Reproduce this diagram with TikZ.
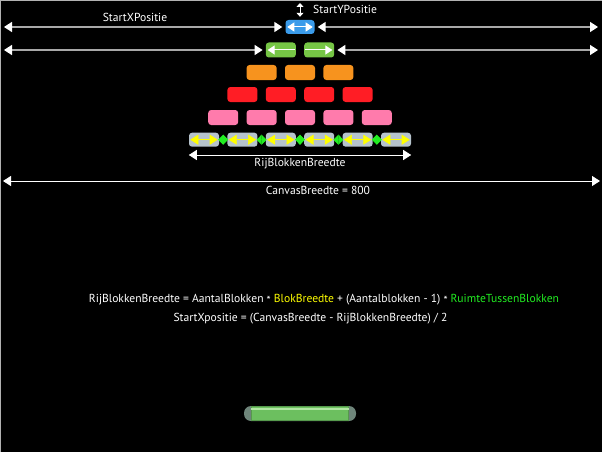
\documentclass[tikz,border=0pt]{standalone}
\usepackage{fontspec}
\setmainfont{PT Sans}
\usetikzlibrary{arrows.meta}
\definecolor{blueb}{HTML}{3A9BEA}
\definecolor{greenb}{HTML}{76C645}
\definecolor{orangeb}{HTML}{F7931E}
\definecolor{redb}{HTML}{FF1D25}
\definecolor{pinkb}{HTML}{FF7BAC}
\definecolor{grayb}{HTML}{B6C3CC}
\definecolor{dimline}{HTML}{A8A8A8}
\definecolor{yel}{HTML}{FFFF00}
\definecolor{grn}{HTML}{22EE22}
\definecolor{padend}{HTML}{6E857A}
\definecolor{padbody}{HTML}{6CBF5F}
\definecolor{padhi}{HTML}{B0E6A2}
\tikzset{
  blok/.style={rounded corners=3pt, minimum width=30pt, minimum height=15pt, inner sep=0pt, draw=none},
  dimarrow/.style={dimline, line width=1.5pt, {Triangle[length=8pt,width=10pt,color=white]}-{Triangle[length=8pt,width=10pt,color=white]}},
  whitearrow/.style={white, line width=1pt, {Triangle[length=8pt,width=10pt]}-{Triangle[length=8pt,width=10pt]}},
  inarrow/.style={white, line width=1pt},
  yelarrow/.style={yel, line width=0.6pt, {Triangle[length=8pt,width=10pt]}-{Triangle[length=8pt,width=10pt]}},
  gaparrow/.style={green!55!black, line width=0.8pt, {Triangle[length=5pt,width=10pt,color=grn]}-{Triangle[length=5pt,width=10pt,color=grn]}},
  lbl/.style={white, font=\fontsize{11.6}{13}\selectfont, inner sep=0pt}
}
\begin{document}
\begin{tikzpicture}[x=1pt,y=-1pt]
\useasboundingbox (0,0) rectangle (602,452);
\fill[black] (0,0) rectangle (602,452);
\draw[gray!60, line width=1pt] (0.5,452) -- (0.5,0.5) -- (602,0.5);

% blocks
\node[blok, fill=blueb, minimum width=29pt, minimum height=14pt] (b0) at (300,27) {};
\node[blok, fill=greenb] (g0) at (280.8,50) {};
\node[blok, fill=greenb] (g1) at (319.2,50) {};
\foreach \i in {0,1,2} \node[blok, fill=orangeb] (o\i) at ({300+(\i-1)*38.4},72.5) {};
\foreach \i in {0,...,3} \node[blok, fill=redb] (r\i) at ({300+(\i-1.5)*38.4},94.5) {};
\foreach \i in {0,...,4} \node[blok, fill=pinkb] (p\i) at ({300+(\i-2)*38.4},117.5) {};
\foreach \i in {0,...,5} \node[blok, fill=grayb, minimum height=14pt] (q\i) at ({300+(\i-2.5)*38.4},139.7) {};

% arrows inside gray row
\foreach \i in {0,...,5} \draw[yelarrow] ([xshift=1.5pt]q\i.west) -- ([xshift=-1.5pt]q\i.east);
\foreach \i/\j in {0/1,1/2,2/3,3/4,4/5} \draw[gaparrow] ([xshift=-1pt]q\i.east) -- ([xshift=1pt]q\j.west);

% arrows inside blue and green blocks
\draw[inarrow, {Triangle[length=7pt,width=9pt]}-{Triangle[length=7pt,width=9pt]}] ([xshift=2pt]b0.west) -- ([xshift=-2pt]b0.east);
\draw[inarrow, {Triangle[length=7pt,width=9pt]}-] ([xshift=2pt]g0.west) -- ([xshift=-1pt]g0.east);
\draw[inarrow, -{Triangle[length=7pt,width=9pt]}] ([xshift=1pt]g1.west) -- ([xshift=-2pt]g1.east);

% StartYPositie
\coordinate (yt) at (300,3);
\draw[white, line width=1pt, {Triangle[length=4pt,width=7pt]}-{Triangle[length=4pt,width=7pt]}] (yt) -- ([yshift=3pt]b0.north);
\node[lbl, anchor=west] (ly) at (313,9) {StartYPositie};

% row 1 dimension arrows
\coordinate (a1l) at (4,27);
\coordinate (a1r) at (598,27);
\draw[dimarrow] (a1l) -- ([xshift=-3pt]b0.west);
\draw[dimarrow] ([xshift=3pt]b0.east) -- (a1r);
\node[lbl] (lx) at (135,17) {StartXPositie};

% row 2 dimension arrows
\coordinate (a2l) at (4,50);
\coordinate (a2r) at (598,50);
\draw[dimarrow] (a2l) -- ([xshift=-3pt]g0.west);
\draw[dimarrow] ([xshift=3pt]g1.east) -- (a2r);

% RijBlokkenBreedte
\coordinate (rl) at (q0.west |- 0,155);
\coordinate (rr) at (q5.east |- 0,155);
\draw[whitearrow] (rl) -- (rr);
\node[lbl] (lr) at (300,163.5) {RijBlokkenBreedte};

% CanvasBreedte
\coordinate (cl) at (3,181);
\coordinate (cr) at (600,181);
\draw[whitearrow] (cl) -- (cr);
\node[lbl] (lc) at (318,190.5) {CanvasBreedte = 800};

% formulas
\node[lbl] (f1) at (324,300) {RijBlokkenBreedte = AantalBlokken \raisebox{-0.25ex}{*} \textcolor{yel}{BlokBreedte} + (Aantalblokken - 1) \raisebox{-0.25ex}{*} \textcolor{grn}{RuimteTussenBlokken}};
\node[lbl] (f2) at (310.5,318.5) {StartXpositie = (CanvasBreedte - RijBlokkenBreedte) / 2};

% paddle
\node[fill=padend, rounded corners=7pt, minimum width=112pt, minimum height=15pt, inner sep=0pt] (pad) at (300,413.5) {};
\node[fill=padbody, minimum width=97pt, minimum height=14pt, inner sep=0pt, draw=padbody!80!black, line width=0.5pt] (padb) at (pad.center) {};
\fill[padhi] ([yshift=-1.5pt]padb.north west) rectangle ([yshift=-4pt]padb.north east);
\end{tikzpicture}
\end{document}
